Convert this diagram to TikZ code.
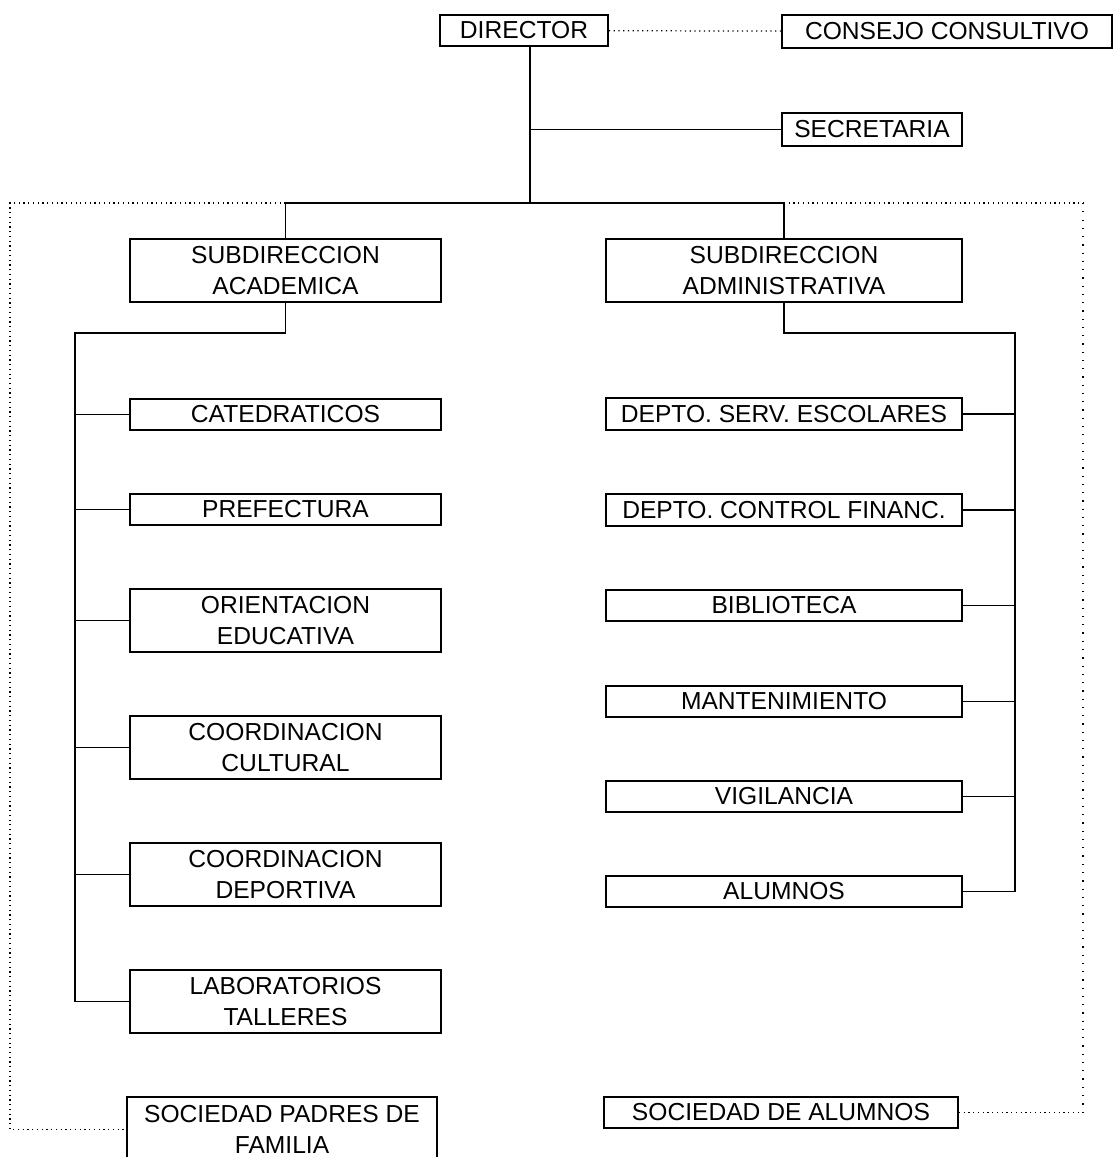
\documentclass[tikz,border=0pt]{standalone}
\usepackage{fontspec}
\setmainfont{Liberation Sans}
\usetikzlibrary{calc}
\usetikzlibrary{positioning}
\def\thickness{1.1pt}
\tikzset{
unit/.style 2 args={draw, line width=\thickness, inner sep=0pt, align=center,
	minimum width=#1cm, minimum height=#2cm,
	font=\fontsize{14}{18}\selectfont},
link/.style={line width=\thickness},
dotlink/.style={line width=0.7pt, dotted},
sparselink/.style={line width=0.7pt, loosely dotted},
}

\begin{document}
\begin{tikzpicture}
\useasboundingbox (0,0) rectangle (22.3,-23.14);
%Place the nodes
\node[unit={3.36}{0.62}] (dir) at (10.48,-0.61) {DIRECTOR};
\node[unit={6.6}{0.66}] (cons) at (18.94,-0.63) {CONSEJO CONSULTIVO};
\node[unit={3.6}{0.66}] (sec) at (17.44,-2.59) {SECRETARIA};

\node[unit={6.22}{1.26}] (subac) at (5.71,-5.41) {SUBDIRECCION\\ACADEMICA};
\node[unit={7.12}{1.26}] (subad) at (15.68,-5.41) {SUBDIRECCION\\ADMINISTRATIVA};

%academic side
\node[unit={6.22}{0.62}] (cat) at (5.71,-8.29) {CATEDRATICOS};
\node[unit={6.22}{0.62}] (pref) at (5.71,-10.19) {PREFECTURA};
\node[unit={6.22}{1.26}] (orie) at (5.71,-12.41) {ORIENTACION\\EDUCATIVA};
\node[unit={6.22}{1.26}] (ccul) at (5.71,-14.95) {COORDINACION\\CULTURAL};
\node[unit={6.22}{1.26}] (cdep) at (5.71,-17.49) {COORDINACION\\DEPORTIVA};
\node[unit={6.22}{1.26}] (lab) at (5.71,-20.03) {LABORATORIOS\\TALLERES};
\node[unit={6.2}{1.3}] (socp) at (5.64,-22.59) {SOCIEDAD PADRES DE\\FAMILIA};

%administrative side
\node[unit={7.12}{0.64}] (serv) at (15.68,-8.28) {DEPTO. SERV. ESCOLARES};
\node[unit={7.12}{0.64}] (fin) at (15.68,-10.2) {DEPTO. CONTROL FINANC.};
\node[unit={7.12}{0.62}] (bib) at (15.68,-12.11) {BIBLIOTECA};
\node[unit={7.12}{0.62}] (mant) at (15.68,-14.03) {MANTENIMIENTO};
\node[unit={7.12}{0.62}] (vig) at (15.68,-15.93) {VIGILANCIA};
\node[unit={7.12}{0.62}] (alum) at (15.68,-17.83) {ALUMNOS};
\node[unit={7.08}{0.62}] (soca) at (15.62,-22.25) {SOCIEDAD DE ALUMNOS};

\coordinate (bus) at (10.6,-4.06);
\coordinate (fl) at (0.2,-4.06);
\coordinate (fr) at (21.66,-4.06);
\coordinate (lbus) at (1.5,-6.66);
\coordinate (rbus) at (20.3,-6.66);

%top part
\draw[dotlink] (dir) -- (cons);
\draw[link] (dir.south -| bus) -- (bus);
\draw[link] (sec.west) -- (sec.west -| bus);
\draw[link] (subac.north |- bus) -- (subad.north |- bus);
\draw[link] (subac.north |- bus) -- (subac.north);
\draw[link] (subad.north |- bus) -- (subad.north);

%dotted frame
\draw[dotlink] (subac.north |- bus) -- (fl) |- (socp.west);
\draw[dotlink] (subad.north |- bus) -- (fr);
\draw[sparselink] (fr) -- (fr |- soca.east);
\draw[dotlink] (soca.east) -- (fr |- soca.east);

%branches
\draw[link] (subac.south) |- (lbus) -- (lbus |- lab.west);
\foreach \n in {cat,pref,orie,ccul,cdep,lab}
	\draw[link] (\n.west) -- (\n.west -| lbus);

\draw[link] (subad.south) |- (rbus) -- (rbus |- alum.east);
\foreach \n in {serv,fin,bib,mant,vig,alum}
	\draw[link] (\n.east) -- (\n.east -| rbus);

\end{tikzpicture}
\end{document}
